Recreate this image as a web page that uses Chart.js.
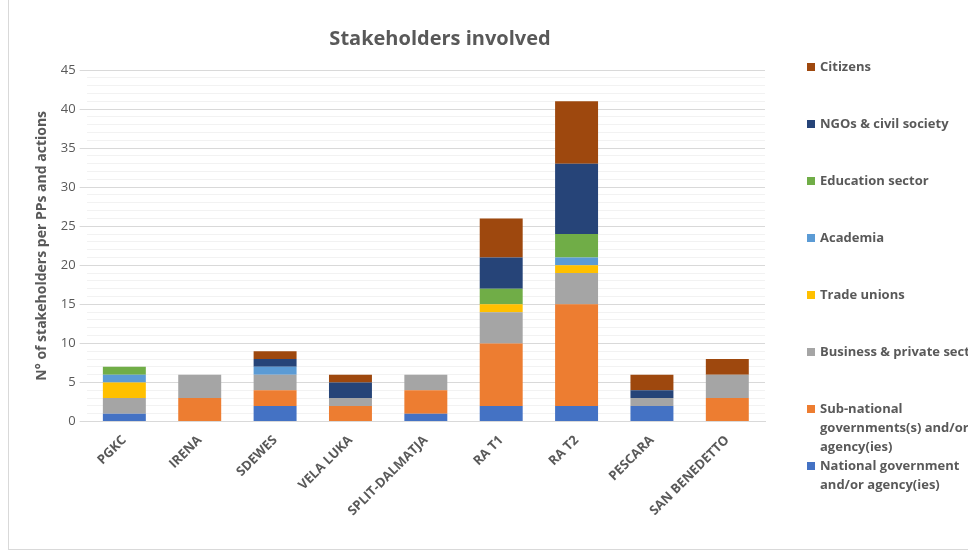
<!DOCTYPE html>
<html>
<head>
<meta charset="utf-8">
<script src="https://cdn.jsdelivr.net/npm/chart.js@4"></script>
<style>
  html, body { margin: 0; padding: 0; background: #fff; overflow: hidden; }
  #wrap { position: relative; width: 968px; height: 556px; }
  #frame { position: absolute; left: 8px; top: -2px; width: 980px; height: 550px; border: 1px solid #d9d9d9; pointer-events: none; }
</style>
</head>
<body>
<div id="wrap">
  <canvas id="myChart" width="968" height="556"></canvas>
  <div id="frame"></div>
</div>
<script>
var categories = ['PGKC', 'IRENA', 'SDEWES', 'VELA LUKA', 'SPLIT-DALMATJA', 'RA T1', 'RA T2', 'PESCARA', 'SAN BENEDETTO'];

var national    = [1, 0, 2, 0, 1, 2, 2, 2, 0];
var subNational = [0, 3, 2, 2, 3, 8, 13, 0, 3];
var business    = [2, 3, 2, 1, 2, 4, 4, 1, 3];
var tradeUnions = [2, 0, 0, 0, 0, 1, 1, 0, 0];
var academia    = [1, 0, 1, 0, 0, 0, 1, 0, 0];
var education   = [1, 0, 0, 0, 0, 2, 3, 0, 0];
var ngos        = [0, 0, 1, 2, 0, 4, 9, 1, 0];
var citizens    = [0, 0, 1, 1, 0, 5, 8, 2, 2];

var seriesNames = [
  'National government\nand/or agency(ies)',
  'Sub-national\ngovernments(s) and/or\nagency(ies)',
  'Business & private sector',
  'Trade unions',
  'Academia',
  'Education sector',
  'NGOs & civil society',
  'Citizens'
];
var seriesValues = [national, subNational, business, tradeUnions, academia, education, ngos, citizens];
var seriesColors = ['#4472C4', '#ED7D31', '#A5A5A5', '#FFC000', '#5B9BD5', '#70AD47', '#264478', '#9E480E'];

var FONT = '"Open Sans", "Liberation Sans", sans-serif';
var GREY = '#595959';

// title + excel-style spread legend drawn on the canvas
var excelBits = {
  id: 'excelBits',
  afterDraw: function(chart) {
    var c = chart.ctx;
    c.save();
    c.fillStyle = GREY;
    c.font = 'bold 20px ' + FONT;
    c.textAlign = 'center';
    c.textBaseline = 'middle';
    c.fillText('Stakeholders involved', 440, 39);

    c.font = 'bold 13px ' + FONT;
    c.textAlign = 'left';
    var n = chart.data.datasets.length;
    for (var i = 0; i < n; i++) {
      var ds = chart.data.datasets[n - 1 - i];
      var y = 67 + 57 * i;
      c.fillStyle = ds.backgroundColor;
      c.fillRect(807, y - 4, 8, 8);
      c.fillStyle = GREY;
      var lines = ds.legendText.split('\n');
      for (var k = 0; k < lines.length; k++) {
        c.fillText(lines[k], 820, y + k * 19);
      }
    }
    c.restore();
  }
};

var datasets = seriesNames.map(function(name, i) {
  return {
    label: name.replace(/\n/g, ' '),
    legendText: name,
    data: seriesValues[i],
    backgroundColor: seriesColors[i],
    borderWidth: 0
  };
});

var ctx = document.getElementById('myChart').getContext('2d');
var myChart = new Chart(ctx, {
  type: 'bar',
  data: { labels: categories, datasets: datasets },
  plugins: [excelBits],
  options: {
    responsive: false,
    animation: false,
    layout: { padding: { top: 70, right: 203, left: 34, bottom: 34 } },
    datasets: { bar: { categoryPercentage: 1, barPercentage: 0.57 } },
    plugins: {
      legend: { display: false },
      title: { display: false },
      tooltip: { enabled: false }
    },
    scales: {
      x: {
        stacked: true,
        grid: { display: false },
        border: { color: '#d9d9d9' },
        ticks: {
          color: GREY,
          font: { family: FONT, size: 13, weight: 'bold' },
          minRotation: 45,
          maxRotation: 45,
          autoSkip: false
        }
      },
      y: {
        stacked: true,
        min: 0,
        max: 45,
        border: { display: false },
        grid: {
          color: function(c) { return c.tick && c.tick.value % 5 === 0 ? '#d9d9d9' : '#f2f2f2'; },
          tickColor: function(c) { return c.tick && c.tick.value % 5 === 0 ? '#d9d9d9' : 'rgba(0,0,0,0)'; },
          tickLength: 7
        },
        ticks: {
          stepSize: 1,
          autoSkip: false,
          color: GREY,
          padding: 4,
          font: { family: FONT, size: 13 },
          callback: function(v) { return v % 5 === 0 ? v : ''; }
        },
        title: {
          display: true,
          text: 'N° of stakeholders per PPs and actions',
          color: GREY,
          font: { family: FONT, size: 14, weight: 'bold' },
          padding: { top: 0, bottom: 6 }
        }
      }
    }
  }
});
</script>
</body>
</html>
